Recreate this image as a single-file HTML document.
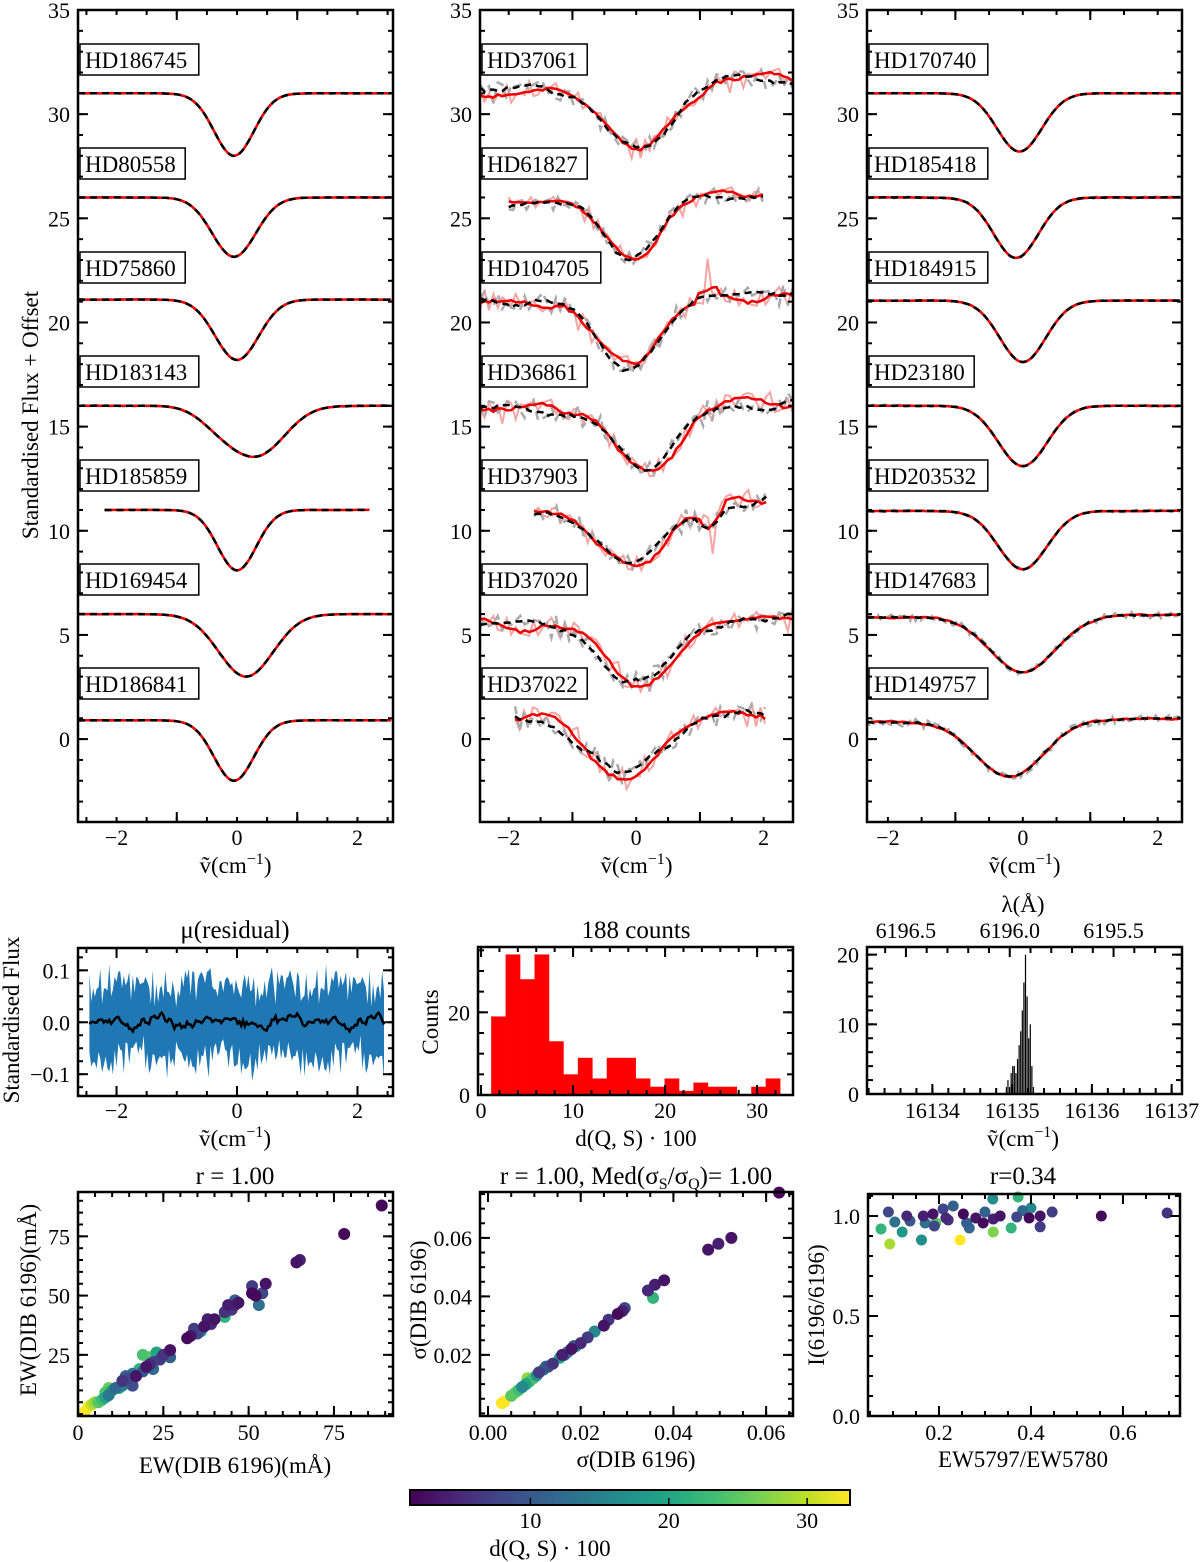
<!DOCTYPE html>
<html><head><meta charset="utf-8">
<style>
html,body{margin:0;padding:0;background:#fff;}
svg{display:block;font-family:"Liberation Serif","DejaVu Serif",serif;}
</style></head>
<body>
<svg id="fig" width="1200" height="1562" viewBox="0 0 1200 1562" xmlns="http://www.w3.org/2000/svg"></svg>
<script>
// ---------- data ----------
const leftNames=['HD186745','HD80558','HD75860','HD183143','HD185859','HD169454','HD186841'];
const leftBase=[31,26,21.1,16,11,6.0,0.9];
const leftSlope=[0,0,0,0,0,0,0];
const leftComps=[[[-0.05,3.0,0.33]],[[-0.05,2.85,0.36]],[[0,2.9,0.36]],[[0.35,2.3,0.45],[-0.3,0.7,0.35]],[[0,2.9,0.32]],[[0.15,3.0,0.45]],[[-0.05,2.9,0.33]]];
const leftXmin=[-2.64,-2.64,-2.64,-2.64,-2.2,-2.64,-2.64];
const leftXmax=[2.59,2.59,2.59,2.59,2.2,2.59,2.59];
const leftNoise=[0.02,0.02,0.02,0.03,0.02,0.02,0.02];

const midNames=['HD37061','HD61827','HD104705','HD36861','HD37903','HD37020','HD37022'];
const midBase=[31.35,25.9,21.2,15.9,11.3,5.6,1.1];
const midSlope=[0.15,0.12,0.05,0.1,0.1,0.05,0.05];
const midComps=[[[0,3.0,0.5]],[[-0.05,2.7,0.42]],[[-0.15,3.3,0.5]],[[0.15,3.1,0.45]],[[-0.1,2.9,0.55],[1.15,1.0,0.15]],[[0.05,2.9,0.55]],[[-0.15,2.9,0.55]]];
const midXmin=[-2.45,-2,-2.45,-2.45,-1.6,-2.45,-1.9];
const midXmax=[2.46,2.05,2.46,2.46,2.05,2.46,2.05];
const midNoise=[0.55,0.45,0.55,0.6,0.55,0.6,0.65];

const rightNames=['HD170740','HD185418','HD184915','HD23180','HD203532','HD147683','HD149757'];
const rightBase=[31,26,21.05,16,10.95,5.9,0.9];
const rightSlope=[0,0,0,0,0,0.03,0.04];
const rightComps=[[[-0.05,2.8,0.33]],[[-0.1,2.9,0.33]],[[0,2.95,0.34]],[[0,2.9,0.36]],[[0,2.8,0.36]],[[0,2.7,0.48]],[[-0.2,2.7,0.5]]];
const rightXmin=[-2.31,-2.31,-2.31,-2.31,-2.31,-2.31,-2.31];
const rightXmax=[2.36,2.36,2.36,2.36,2.36,2.36,2.36];
const rightNoise=[0.02,0.05,0.03,0.05,0.06,0.18,0.22];

const noiseSeq=[0.3,-0.8,0.5,0.1,-0.4,0.9,-0.2,-0.7,0.6,0.2,-0.5,0.8,-0.9,0.4,0.0,-0.3,0.7,-0.6,0.2,0.5,-0.1,-0.8,0.9,-0.4,0.3,0.6,-0.7,0.1,-0.2,0.8,-0.5,0.4,-0.9,0.2,0.7,-0.3,0.0,0.5,-0.6,0.9,-0.1,-0.4,0.6,0.3,-0.8,0.1,0.7,-0.5,0.2,-0.9,0.8,-0.2,0.4,-0.6,0.5,0.0,-0.3,0.9,-0.7,0.1,0.6,-0.4,0.3,-0.1,0.8,-0.8,0.2,0.5,-0.6,0.7,-0.3,0.1,-0.9,0.4,0.6,-0.2,0.0,0.9,-0.5,0.3,-0.7,0.8,-0.1,0.2,-0.4,0.5,-0.8,0.7,0.1,-0.6,0.4,-0.3,0.9,-0.2,0.0,0.6,-0.9,0.3,0.5,-0.7,0.2,-0.1,0.8,-0.5,0.4,0.1,-0.6,0.7,-0.3,0.9,-0.8,0.2,0.5,-0.4,0.0,0.6,-0.2,0.3,-0.9,0.8];

const histCounts=[19,34,28,34,13,5,9,4,9,9,4,2,4,1,3,2,2,0,2,4];
const histStart=1.1, histWidth=1.57;

const nuCounts=[1,2,1,3,4,4,3,5,7,9,12,16,20,14,8,10,4,1];
const nuStart=16134.92, nuWidth=0.02;

const ewX=[89,78,64,65,55,54,51,51,52,53,47,46,45,44,46,43,43,40,39,38,37,36,35,34,33,32,27,27,25,24,23,22,21,21,20,19,19,18,17,16,15,14,13,13,12,11,10,9,9,8,8,9,7,6,3,2,4,5,16,22];
const ewY=[88,76,64,65,55,51,54,51,50,46,47,46,44,46,48,43,41,40,38,40,37,35,34,36,33,32,27,24,25,23,26,22,24,21,20,25,18,19,16,17,15,16,12,14,11,11,10,8,11,9,7,8,6,5,3,1,4,5,12,19];
const ewD=[2,2,3,4,3,8,7,2,2,13,3,5,7,4,11,6,22,3,5,4,3,16,8,7,3,2,3,11,6,7,20,9,25,5,3,24,10,22,3,13,8,11,15,6,20,12,19,14,26,24,20,33,23,25,33,33,30,28,9,12];

const sigX=[0.0628,0.0525,0.0497,0.0475,0.038,0.036,0.0345,0.0356,0.0295,0.029,0.026,0.025,0.0215,0.020,0.019,0.0185,0.0172,0.016,0.0165,0.0155,0.014,0.013,0.012,0.011,0.0105,0.0098,0.009,0.0082,0.0074,0.0066,0.0058,0.005,0.0035,0.003,0.023,0.028,0.0085,0.0125,0.018];
const sigY=[0.0755,0.060,0.058,0.056,0.0455,0.044,0.042,0.0395,0.036,0.035,0.032,0.030,0.026,0.024,0.023,0.023,0.021,0.020,0.020,0.019,0.017,0.016,0.015,0.014,0.013,0.012,0.011,0.010,0.009,0.008,0.007,0.006,0.004,0.0035,0.028,0.034,0.012,0.016,0.022];
const sigD=[2,3,4,3,3,4,5,22,8,4,6,3,7,5,20,10,14,4,11,20,6,9,15,7,18,25,24,20,16,23,27,25,33,33,16,2,28,12,3];

const ratX=[0.09,0.074,0.093,0.104,0.12,0.13,0.137,0.162,0.17,0.166,0.187,0.193,0.19,0.209,0.22,0.231,0.215,0.246,0.253,0.26,0.266,0.28,0.296,0.30,0.318,0.333,0.318,0.317,0.357,0.369,0.372,0.382,0.40,0.396,0.42,0.42,0.446,0.553,0.696];
const ratY=[1.02,0.935,0.86,0.97,0.92,1.0,0.975,0.88,0.965,1.0,1.01,0.965,0.95,1.035,0.98,1.05,0.99,0.88,1.01,0.965,0.94,0.99,0.965,1.02,0.985,1.0,0.92,1.085,0.94,0.995,1.095,1.027,1.04,0.99,1.0,0.946,1.02,1.0,1.015];
const ratD=[8,22,29,13,18,5,10,17,13,4,3,25,8,8,6,11,5,33,2,11,12,3,2,11,4,3,27,17,22,8,22,12,16,2,3,7,7,2,6];

const cbTicks=[10,20,30];
const dMin=1.3, dMax=33.1;

// ---------- helpers ----------
const NS='http://www.w3.org/2000/svg';
const svg=document.getElementById('fig');
const TICK=22, TITLE=25, LAB=23;
function mk(tag,attrs,parent){const e=document.createElementNS(NS,tag);for(const k in attrs)e.setAttribute(k,attrs[k]);(parent||svg).appendChild(e);return e;}
function txt(s,x,y,size,anchor,parent){const t=mk('text',{x:x,y:y,'font-size':size,'text-anchor':anchor||'middle',fill:'#000'},parent);t.textContent=s;return t;}
const vStops=['#440154','#482475','#414487','#355f8d','#2a788e','#21918c','#22a884','#44bf70','#7ad151','#bddf26','#fde725'];
function hex(h){return [parseInt(h.slice(1,3),16),parseInt(h.slice(3,5),16),parseInt(h.slice(5,7),16)];}
function viridis(t){t=Math.max(0,Math.min(1,t));const f=t*10,i=Math.min(9,Math.floor(f)),r=f-i;const a=hex(vStops[i]),b=hex(vStops[i+1]);return 'rgb('+a.map((v,k)=>Math.round(v+(b[k]-v)*r)).join(',')+')';}
function dColor(d){return viridis((d-dMin)/(dMax-dMin));}
const NL=noiseSeq.length;
function nz(k){return noiseSeq[((k*7)%NL+NL)%NL];}

function makePanel(name,x0,y0,x1,y1,dx0,dx1,dy0,dy1){
  const g=mk('g',{});
  
  
  return {g:g,x0:x0,y0:y0,x1:x1,y1:y1,
    sx:v=>x0+(v-dx0)/(dx1-dx0)*(x1-x0),
    sy:v=>y1-(v-dy0)/(dy1-dy0)*(y1-y0)};
}
function frame(p){const r=mk('rect',{x:p.x0,y:p.y0,width:p.x1-p.x0,height:p.y1-p.y0,fill:'none',stroke:'#000','stroke-width':2.5},p.g);

}
function xTicks(p,vals,len,both){const g=mk('g',{stroke:'#000','stroke-width':2},p.g);


vals.forEach(v=>{const x=p.sx(v);if(x<p.x0-0.5||x>p.x1+0.5)return;mk('line',{x1:x,x2:x,y1:p.y1,y2:p.y1-len},g);if(both!==false)mk('line',{x1:x,x2:x,y1:p.y0,y2:p.y0+len},g);});}
function yTicks(p,vals,len){const g=mk('g',{stroke:'#000','stroke-width':2},p.g);


vals.forEach(v=>{const y=p.sy(v);if(y<p.y0-0.5||y>p.y1+0.5)return;mk('line',{x1:p.x0,x2:p.x0+len,y1:y,y2:y},g);mk('line',{x1:p.x1,x2:p.x1-len,y1:y,y2:y},g);});}
function range(a,b,s){const o=[];for(let v=a;v<=b+1e-9;v+=s)o.push(Math.round(v*1e6)/1e6);return o;}
function xLabels(p,vals,fmt,y){const g=mk('g',{},p.g);


vals.forEach(v=>txt(fmt(v),p.sx(v),y,TICK,'middle',g));}
function yLabels(p,vals,fmt,dx){const g=mk('g',{},p.g);


vals.forEach(v=>txt(fmt(v),p.x0-(dx||7),p.sy(v)+8,TICK,'end',g));}
const minus=s=>s.replace('-','\u2212');
function rotLabel(s,x,y,name){const t=mk('text',{x:0,y:0,'font-size':LAB,'text-anchor':'middle',transform:'translate('+x+','+y+') rotate(-90)'});t.textContent=s;

return t;}
function nuLabel(x,y){const t=mk('text',{x:x,y:y,'font-size':LAB,'text-anchor':'middle'});


const a=mk('tspan',{},t);a.textContent='\u1e7d(cm';const b=mk('tspan',{dy:-9,'font-size':16},t);b.textContent='\u22121';const c=mk('tspan',{dy:9},t);c.textContent=')';}

function profile(x,base,slope,comps){let v=base+slope*x;comps.forEach(c=>{v-=c[1]*Math.exp(-(x-c[0])*(x-c[0])/(2*c[2]*c[2]));});return v;}
function smooth(arr,w){return arr.map((_,i)=>{let s=0,n=0;for(let k=-w;k<=w;k++){const j=i+k;if(j>=0&&j<arr.length){s+=arr[j];n++;}}return s/n;});}
function pathD(p,xs,ys){return xs.map((x,i)=>(i?'L':'M')+p.sx(x).toFixed(1)+','+p.sy(ys[i]).toFixed(1)).join('');}

function spectraPanel(p,names,base,slope,comps,xmin,xmax,noise,noisy,boxX){
  names.forEach((nm,i)=>{
    const step=noisy?0.07:0.04;
    const xs=range(xmin[i],xmax[i],step);
    const model=xs.map(x=>profile(x,base[i],slope[i],comps[i]));
    const n1=xs.map((_,k)=>noise[i]*nz(k+i*17));
    const n2=xs.map((_,k)=>noise[i]*nz(k+i*17+53));
    if(nm==='HD104705'){xs.forEach((x,k)=>{if(Math.abs(x-1.12)<0.04)n1[k]+=1.6;});}
    if(nm==='HD37903'){xs.forEach((x,k)=>{if(Math.abs(x-1.22)<0.04)n1[k]-=1.4;});}
    const g=mk('g',{fill:'none'},p.g);
    
    
    const w=noisy?2:1;
    if(noisy){
      const pk=mk('path',{d:pathD(p,xs,model.map((m,k)=>m+n1[k])),stroke:'#f6a5a5','stroke-width':2},g);
      
      
    }
    const gr=mk('path',{d:pathD(p,xs,model.map((m,k)=>m+n2[k])),stroke:'#aaaaaa','stroke-width':2.5,'stroke-dasharray':'8,5'},g);
    
    
    const sm1=smooth(n1,w),sm2=smooth(n2,w);
    const rd=mk('path',{d:pathD(p,xs,model.map((m,k)=>m+sm1[k]*(noisy?1.0:0.3))),stroke:'#ee0000','stroke-width':2.5},g);
    
    
    const bk=mk('path',{d:pathD(p,xs,model.map((m,k)=>m+sm2[k]*(noisy?1.0:0.3))),stroke:'#000','stroke-width':2.5,'stroke-dasharray':'7,5'},g);
    
    
    const yc=60+i*104;
    const bw=nm.length*13.6+10;
    const lb=mk('g',{},p.g);
    
    
    mk('rect',{x:boxX,y:yc-16,width:bw,height:31,fill:'#fff',stroke:'#000','stroke-width':1.5},lb);
    txt(nm,boxX+5,yc+8,23,'start',lb);
  });
}

// ---------- top row ----------
const tops=[
 {name:'spectra-panel-left',x0:78,x1:393,dx0:-2.64,dx1:2.59,names:leftNames,base:leftBase,slope:leftSlope,comps:leftComps,xmin:leftXmin,xmax:leftXmax,noise:leftNoise,noisy:false},
 {name:'spectra-panel-middle',x0:480,x1:793,dx0:-2.45,dx1:2.46,names:midNames,base:midBase,slope:midSlope,comps:midComps,xmin:midXmin,xmax:midXmax,noise:midNoise,noisy:true},
 {name:'spectra-panel-right',x0:867,x1:1182,dx0:-2.31,dx1:2.36,names:rightNames,base:rightBase,slope:rightSlope,comps:rightComps,xmin:rightXmin,xmax:rightXmax,noise:rightNoise,noisy:false}];
tops.forEach(t=>{
  const p=makePanel(t.name,t.x0,10,t.x1,822,t.dx0,t.dx1,-3.98,35);
  spectraPanel(p,t.names,t.base,t.slope,t.comps,t.xmin,t.xmax,t.noise,t.noisy,t.x0+2);
  xTicks(p,range(-3,3,2),10);xTicks(p,range(-2.5,2.5,0.5),5);
  yTicks(p,range(0,35,5),10);yTicks(p,range(-3,34,1),5);
  frame(p);
  xLabels(p,[-2,0,2],v=>minus(String(v)),845);
  yLabels(p,[0,5,10,15,20,25,30,35],v=>String(v),8);
  nuLabel((t.x0+t.x1)/2,873);
});
rotLabel('Standardised Flux + Offset',38,415,'y-axis-title-top');

// ---------- residual panel ----------
const pr=makePanel('residual-panel',78,948,393,1096,-2.64,2.59,-0.142,0.143);
const rx=range(-2.45,2.45,0.03);
const upper=rx.map((_,k)=>0.07+0.035*nz(k)+0.015*nz(k+11));
const lower=rx.map((_,k)=>-0.07+0.035*nz(k+37)+0.015*nz(k+5));
const meanR=rx.map((_,k)=>0.022*nz(k+71));
const band=mk('path',{d:pathD(pr,rx,upper)+rx.slice().reverse().map((x,i)=>'L'+pr.sx(x).toFixed(1)+','+pr.sy(lower[rx.length-1-i]).toFixed(1)).join('')+'Z',fill:'#1f77b4'},pr.g);


const ml=mk('path',{d:pathD(pr,rx,smooth(meanR,1)),fill:'none',stroke:'#000','stroke-width':2.5},pr.g);


xTicks(pr,[-2,0,2],10);xTicks(pr,range(-2.5,2.5,0.5),5);
yTicks(pr,[-0.1,0,0.1],10);yTicks(pr,range(-0.125,0.125,0.025),5);
frame(pr);
xLabels(pr,[-2,0,2],v=>minus(String(v)),1118);
yLabels(pr,[-0.1,0,0.1],v=>minus(v.toFixed(1)),8);
nuLabel(235,1146);
txt('\u03bc(residual)',235,938,TITLE,'middle');
rotLabel('Standardised Flux',19,1020,'y-axis-title-residual');

// ---------- histogram ----------
const ph=makePanel('distance-histogram',478,947,793,1095,-0.33,33.9,0,35.8);
histCounts.forEach((c,i)=>{
  const a=histStart+i*histWidth,b=a+histWidth;
  const r=mk('rect',{x:ph.sx(a),y:ph.sy(c),width:ph.sx(b)-ph.sx(a)+0.3,height:ph.sy(0)-ph.sy(c),fill:'#ff0000'},ph.g);
  
  
});
xTicks(ph,[0,10,20,30],10);xTicks(ph,range(0,34,2),5);
yTicks(ph,[0,20],10);yTicks(ph,range(0,35,5),6);
frame(ph);
xLabels(ph,[0,10,20,30],String,1118);
yLabels(ph,[0,20],String,8);
txt('d(Q, S) \u00b7 100',636,1146,LAB,'middle');
txt('188 counts',636,938,TITLE,'middle');
rotLabel('Counts',438,1022,'y-axis-title-counts');

// ---------- wavenumber histogram ----------
const pn=makePanel('center-histogram',867,947,1182,1094,16133.18,16137.13,0,21.1);
nuCounts.forEach((c,i)=>{
  const a=nuStart+i*nuWidth;
  const r=mk('rect',{x:pn.sx(a),y:pn.sy(c),width:Math.max(1,pn.sx(a+nuWidth)-pn.sx(a)-0.4),height:pn.sy(0)-pn.sy(c),fill:'#000'},pn.g);
  
  
});
xTicks(pn,[16134,16135,16136,16137],10,false);xTicks(pn,range(16133.2,16137.1,0.2),6,false);
yTicks(pn,[0,10,20],10);yTicks(pn,range(0,20,2),6);
const lam=l=>16134.97-2.6035*(l-6196.0);
(function(){const g=mk('g',{stroke:'#000','stroke-width':2},pn.g);


range(6195.3,6196.7,0.1).forEach(l=>{const x=pn.sx(lam(l));if(x<867||x>1182)return;const maj=Math.abs(l*2-Math.round(l*2))<1e-6;mk('line',{x1:x,x2:x,y1:947,y2:947+(maj?10:6)},g);});
[6196.5,6196.0,6195.5].forEach(l=>txt(l.toFixed(1),pn.sx(lam(l)),938,TICK,'middle',pn.g));})();
frame(pn);
xLabels(pn,[16134,16135,16136,16137],String,1118);
yLabels(pn,[0,10,20],String,8);
nuLabel(1023,1146);
txt('\u03bb(\u00c5)',1023,912,LAB,'middle');

// ---------- scatter panels ----------
function scatter(p,xs,ys,ds,r,name){const g=mk('g',{},p.g);


const idx=xs.map((_,i)=>i).sort((a,b)=>ds[b]-ds[a]);
idx.forEach(i=>{const c=mk('circle',{cx:p.sx(xs[i]),cy:p.sy(ys[i]),r:r,fill:dColor(ds[i])},g);

});}

const ps1=makePanel('ew-scatter',78,1192,393,1416,0,92.3,-0.8,93.7);
scatter(ps1,ewX,ewY,ewD,6,'ew-points');
xTicks(ps1,[0,25,50,75],10);xTicks(ps1,range(0,90,5),5);
yTicks(ps1,[25,50,75],10);yTicks(ps1,range(0,90,5),5);
frame(ps1);
xLabels(ps1,[0,25,50,75],String,1440);
yLabels(ps1,[25,50,75],String,8);
txt('EW(DIB 6196)(m\u00c5)',235,1473,LAB,'middle');
rotLabel('EW(DIB 6196)(m\u00c5)',36,1300,'y-axis-title-ew');
txt('r =  1.00',235,1184,TITLE,'middle');

const ps2=makePanel('sigma-scatter',480,1192,793,1416,-0.00173,0.0658,-0.0009,0.0757);
scatter(ps2,sigX,sigY,sigD,6,'sigma-points');
xTicks(ps2,[0,0.02,0.04,0.06],10);xTicks(ps2,range(0,0.065,0.005),5);
yTicks(ps2,[0.02,0.04,0.06],10);yTicks(ps2,range(0,0.075,0.005),5);
frame(ps2);
xLabels(ps2,[0,0.02,0.04,0.06],v=>v.toFixed(2),1440);
yLabels(ps2,[0.02,0.04,0.06],v=>v.toFixed(2),8);
txt('\u03c3(DIB 6196)',636,1467,LAB,'middle');
rotLabel('\u03c3(DIB 6196)',426,1300,'y-axis-title-sigma');
(function(){const t=mk('text',{x:636,y:1184,'font-size':TITLE,'text-anchor':'middle'});


const a=mk('tspan',{},t);a.textContent='r =  1.00, Med(\u03c3';const b=mk('tspan',{dy:5,'font-size':16},t);b.textContent='S';const c=mk('tspan',{dy:-5},t);c.textContent='/\u03c3';const d=mk('tspan',{dy:5,'font-size':16},t);d.textContent='Q';const e=mk('tspan',{dy:-5},t);e.textContent=')= 1.00';})();

const ps3=makePanel('ratio-scatter',868,1194,1180,1416,0.0457,0.724,0,1.11);
scatter(ps3,ratX,ratY,ratD,5.5,'ratio-points');
xTicks(ps3,[0.2,0.4,0.6],10);xTicks(ps3,range(0.05,0.7,0.05),5);
yTicks(ps3,[0,0.5,1.0],10);yTicks(ps3,range(0,1.1,0.1),5);
frame(ps3);
xLabels(ps3,[0.2,0.4,0.6],v=>v.toFixed(1),1440);
yLabels(ps3,[0,0.5,1.0],v=>v.toFixed(1),8);
txt('EW5797/EW5780',1023,1467,LAB,'middle');
rotLabel('I(6196/6196)',824,1305,'y-axis-title-ratio');
txt('r=0.34',1023,1184,TITLE,'middle');

// ---------- colorbar ----------
(function(){
 const g=mk('g',{});
 
 
 const defs=mk('defs',{},g);const lg=mk('linearGradient',{id:'vir',x1:0,x2:1,y1:0,y2:0},defs);
 for(let i=0;i<=20;i++){mk('stop',{offset:(i/20),'stop-color':viridis(i/20)},lg);}
 const cx0=410,cx1=850;
 mk('rect',{x:cx0,y:1490,width:cx1-cx0,height:15,fill:'url(#vir)',stroke:'#000','stroke-width':2},g);
 const cs=v=>cx0+(v-dMin)/(dMax-dMin)*(cx1-cx0);
 cbTicks.forEach(v=>{mk('line',{x1:cs(v),x2:cs(v),y1:1505,y2:1498,stroke:'#000','stroke-width':1.5},g);txt(String(v),cs(v),1528,TICK,'middle',g);});
 txt('d(Q, S) \u00b7 100',550,1556,LAB,'middle',g);
})();
</script>
</body></html>
